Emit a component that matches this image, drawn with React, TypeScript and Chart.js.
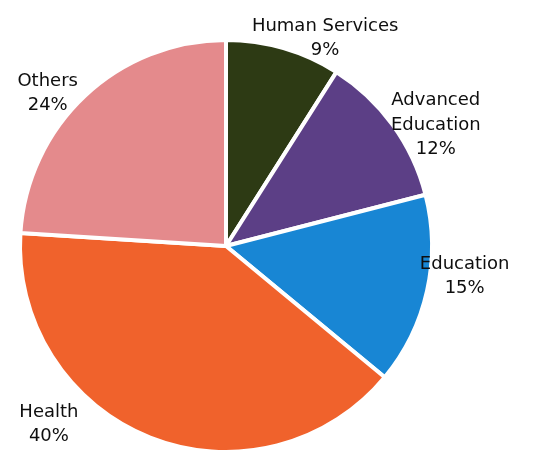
import React, { useEffect, useRef } from "react";
import { Chart, registerables } from "chart.js";

Chart.register(...registerables);

const categories = ["Human Services", "Advanced Education", "Education", "Health", "Others"];
const shares = [9, 12, 15, 40, 24];
const labelLines = [["Human Services"], ["Advanced", "Education"], ["Education"], ["Health"], ["Others"]];
const sliceColors = ["#2d3a14", "#5c3f86", "#1886d4", "#f0622c", "#e48a8c"];

// label placement relative to each slice: angle shift (deg) and distance as a multiple of radius
const labelAngleShift = [9.3, 6, -5.3, 23.2, -6.2];
const labelDistance = [1.118, 1.176, 1.168, 1.22, 1.14];

const labelPlugin = {
  id: "outerLabels",
  afterDatasetsDraw(chart: any) {
    const ctx = chart.ctx;
    const meta = chart.getDatasetMeta(0);
    ctx.save();
    ctx.font = "18px 'DejaVu Sans'";
    ctx.fillStyle = "#0e0e0e";
    ctx.textAlign = "center";
    ctx.textBaseline = "middle";
    meta.data.forEach((arc: any, i: number) => {
      const p = arc.getProps(["x", "y", "startAngle", "endAngle", "outerRadius"], true);
      const mid = (p.startAngle + p.endAngle) / 2 + (labelAngleShift[i] * Math.PI) / 180;
      const r = p.outerRadius * labelDistance[i];
      const cx = p.x + Math.cos(mid) * r;
      const cy = p.y + Math.sin(mid) * r;
      const lines = [...labelLines[i], shares[i] + "%"];
      const lh = 24.5;
      const top = cy - ((lines.length - 1) * lh) / 2;
      lines.forEach((t, k) => ctx.fillText(t, cx, top + k * lh));
    });
    ctx.restore();
  },
};

export default function App() {
  const ref = useRef<HTMLCanvasElement>(null);
  useEffect(() => {
    if (!ref.current) return;
    const chart = new Chart(ref.current, {
      type: "pie",
      data: {
        labels: categories,
        datasets: [
          {
            data: shares,
            backgroundColor: sliceColors,
            borderColor: "#ffffff",
            borderWidth: 4,
          },
        ],
      },
      options: {
        responsive: false,
        animation: false,
        devicePixelRatio: 1,
        layout: { padding: { left: 18, right: 104, top: 38, bottom: 16 } },
        plugins: { legend: { display: false }, tooltip: { enabled: false } },
      },
      plugins: [labelPlugin],
    });
    return () => chart.destroy();
  }, []);
  return (
    <div style={{ position: "fixed", left: 0, top: 0, width: 538, height: 454, overflow: "hidden", background: "#fff" }}>
      <canvas ref={ref} width={538} height={470} style={{ display: "block" }} />
    </div>
  );
}
